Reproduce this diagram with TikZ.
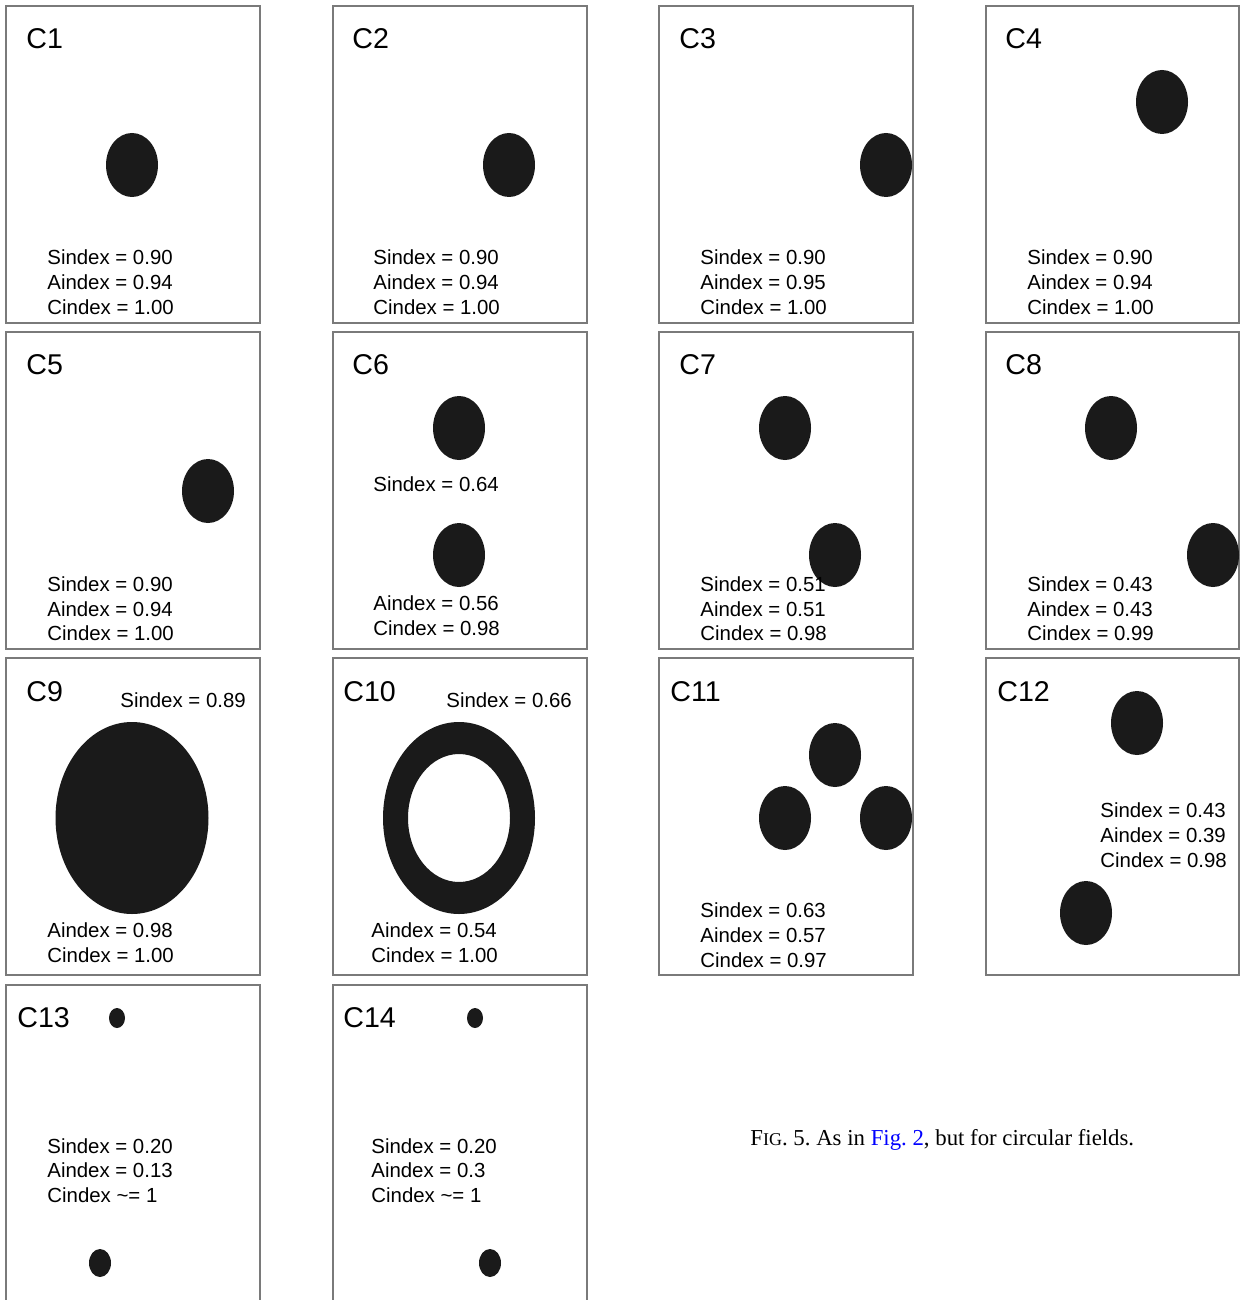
\documentclass[tikz,border=0pt]{standalone}
\usepackage{fontspec}
\setmainfont{Liberation Sans}
\newfontfamily\capfont{Liberation Serif}
\definecolor{blob}{HTML}{1A1A1A}
\definecolor{frame}{HTML}{7A7A7A}
\definecolor{linkblue}{HTML}{0000FF}
\frenchspacing
\begin{document}
\begin{tikzpicture}[x=0.5pt,y=-0.5pt,
  panel/.style={draw=frame,line width=0.7pt},
  lab/.style={anchor=west,inner sep=0pt,font=\fontsize{14.3}{16}\selectfont},
  idx/.style={anchor=west,inner sep=0pt,font=\fontsize{10.2}{12}\selectfont},
  blobfill/.style={fill=blob}]
\useasboundingbox (0,0) rectangle (1240,1300);
\clip (0,0) rectangle (1240,1300);
% panels
\foreach \px in {6,333,659}
  \foreach \py in {6,332,658}
    \draw[panel] (\px,\py) rectangle ++(254,317);
\foreach \py in {6,332,658}
  \draw[panel] (986,\py) rectangle (1239,\py+317);
\draw[panel] (6,985) rectangle ++(254,340);
\draw[panel] (333,985) rectangle ++(254,340);
% labels
\node[lab] (l1) at (26,39) {C1};
\node[lab] (l2) at (352,39) {C2};
\node[lab] (l3) at (679,39) {C3};
\node[lab] (l4) at (1005,39) {C4};
\node[lab] (l5) at (26,365) {C5};
\node[lab] (l6) at (352,365) {C6};
\node[lab] (l7) at (679,365) {C7};
\node[lab] (l8) at (1005,365) {C8};
\node[lab] (l9) at (26,692) {C9};
\node[lab] (l10) at (343,692) {C10};
\node[lab] (l11) at (670,692) {C11};
\node[lab] (l12) at (997,692) {C12};
\node[lab] (l13) at (17,1018) {C13};
\node[lab] (l14) at (343,1018) {C14};
% blobs
\fill[blobfill] (132,165) ellipse [x radius=26,y radius=32];
\fill[blobfill] (509,165) ellipse [x radius=26,y radius=32];
\fill[blobfill] (886,165) ellipse [x radius=26,y radius=32];
\fill[blobfill] (1162,102) ellipse [x radius=26,y radius=32];
\fill[blobfill] (208,491) ellipse [x radius=26,y radius=32];
\fill[blobfill] (459,428) ellipse [x radius=26,y radius=32];
\fill[blobfill] (459,555) ellipse [x radius=26,y radius=32];
\fill[blobfill] (785,428) ellipse [x radius=26,y radius=32];
\fill[blobfill] (835,555) ellipse [x radius=26,y radius=32];
\fill[blobfill] (1111,428) ellipse [x radius=26,y radius=32];
\fill[blobfill] (1213,555) ellipse [x radius=26,y radius=32];
\fill[blobfill] (132,818) ellipse [x radius=76.5,y radius=96];
\fill[blobfill,even odd rule] (459,818) ellipse [x radius=76,y radius=96]
   (459,818) ellipse [x radius=51,y radius=64];
\fill[blobfill] (835,755) ellipse [x radius=26,y radius=32];
\fill[blobfill] (785,818) ellipse [x radius=26,y radius=32];
\fill[blobfill] (886,818) ellipse [x radius=26,y radius=32];
\fill[blobfill] (1137,723) ellipse [x radius=26,y radius=32];
\fill[blobfill] (1086,913) ellipse [x radius=26,y radius=32];
\fill[blobfill] (117,1018) ellipse [x radius=8,y radius=10];
\fill[blobfill] (100,1263) ellipse [x radius=11,y radius=14];
\fill[blobfill] (475,1018) ellipse [x radius=8,y radius=10];
\fill[blobfill] (490,1263) ellipse [x radius=11,y radius=14];
% index texts
\node[idx] (s1) at (47,257) {Sindex = 0.90};
\node[idx] (a1) at (47,282) {Aindex = 0.94};
\node[idx] (c1) at (47,307) {Cindex = 1.00};
\node[idx] (s2) at (373,257) {Sindex = 0.90};
\node[idx] (a2) at (373,282) {Aindex = 0.94};
\node[idx] (c2) at (373,307) {Cindex = 1.00};
\node[idx] (s3) at (700,257) {Sindex = 0.90};
\node[idx] (a3) at (700,282) {Aindex = 0.95};
\node[idx] (c3) at (700,307) {Cindex = 1.00};
\node[idx] (s4) at (1027,257) {Sindex = 0.90};
\node[idx] (a4) at (1027,282) {Aindex = 0.94};
\node[idx] (c4) at (1027,307) {Cindex = 1.00};
\node[idx] (s5) at (47,584) {Sindex = 0.90};
\node[idx] (a5) at (47,609) {Aindex = 0.94};
\node[idx] (c5) at (47,633) {Cindex = 1.00};
\node[idx] (s6) at (373,484) {Sindex = 0.64};
\node[idx] (a6) at (373,603) {Aindex = 0.56};
\node[idx] (c6) at (373,628) {Cindex = 0.98};
\node[idx] (s7) at (700,584) {Sindex = 0.51};
\node[idx] (a7) at (700,609) {Aindex = 0.51};
\node[idx] (c7) at (700,633) {Cindex = 0.98};
\node[idx] (s8) at (1027,584) {Sindex = 0.43};
\node[idx] (a8) at (1027,609) {Aindex = 0.43};
\node[idx] (c8) at (1027,633) {Cindex = 0.99};
\node[idx] (s9) at (120,700) {Sindex = 0.89};
\node[idx] (a9) at (47,930) {Aindex = 0.98};
\node[idx] (c9) at (47,955) {Cindex = 1.00};
\node[idx] (s10) at (446,700) {Sindex = 0.66};
\node[idx] (a10) at (371,930) {Aindex = 0.54};
\node[idx] (c10) at (371,955) {Cindex = 1.00};
\node[idx] (s11) at (700,910) {Sindex = 0.63};
\node[idx] (a11) at (700,935) {Aindex = 0.57};
\node[idx] (c11) at (700,960) {Cindex = 0.97};
\node[idx] (s12) at (1100,810) {Sindex = 0.43};
\node[idx] (a12) at (1100,835) {Aindex = 0.39};
\node[idx] (c12) at (1100,860) {Cindex = 0.98};
\node[idx] (s13) at (47,1146) {Sindex = 0.20};
\node[idx] (a13) at (47,1170) {Aindex = 0.13};
\node[idx] (c13) at (47,1195) {Cindex \textasciitilde= 1};
\node[idx] (s14) at (371,1146) {Sindex = 0.20};
\node[idx] (a14) at (371,1170) {Aindex = 0.3};
\node[idx] (c14) at (371,1195) {Cindex \textasciitilde= 1};
% caption
\node[anchor=west,inner sep=0pt,font=\capfont\fontsize{11.4}{13}\selectfont] (cap) at (750,1140)
  {F{\fontsize{9}{10}\selectfont IG}. 5. As in \textcolor{linkblue}{Fig. 2}, but for circular fields.};
\end{tikzpicture}
\end{document}
